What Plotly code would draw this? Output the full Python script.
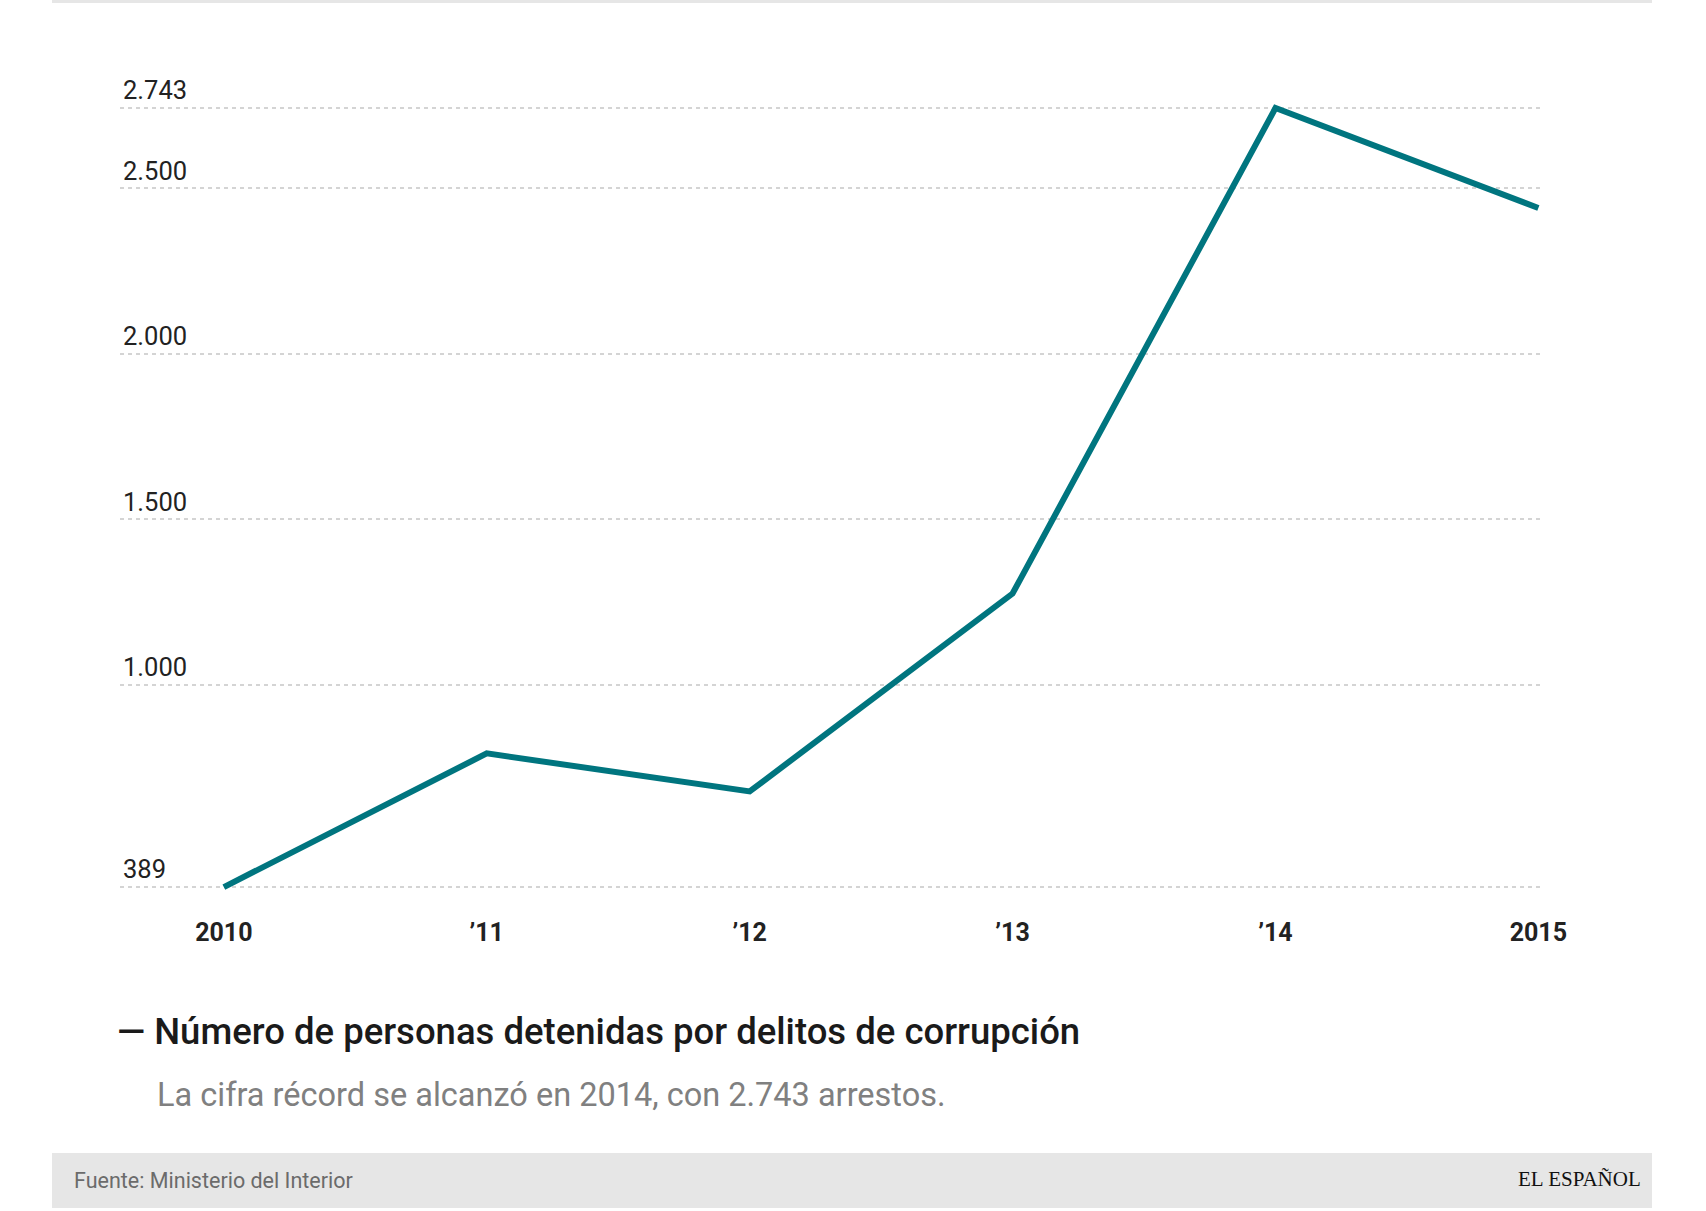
import plotly.graph_objects as go

# ---- data ----
years = [2010, 2011, 2012, 2013, 2014, 2015]
year_labels = ["2010", "\u201911", "\u201912", "\u201913", "\u201914", "2015"]
detenidos = [389, 793, 678, 1276, 2743, 2441]
y_ticks = [389, 1000, 1500, 2000, 2500, 2743]
y_tick_labels = ["389", "1.000", "1.500", "2.000", "2.500", "2.743"]

title_text = "\u2014 Número de personas detenidas por delitos de corrupción"
subtitle_text = "La cifra récord se alcanzó en 2014, con 2.743 arrestos."
source_text = "Fuente: Ministerio del Interior"
brand_text = "EL ESPAÑOL"

# ---- layout geometry (pixels) ----
W, H = 1706, 1211
ML, MR, MT, MB = 120, 165, 70, 311
PW, PH = W - ML - MR, H - MT - MB


def px(x):
    return (x - ML) / PW


def py(y):
    return (H - MB - y) / PH


LINE_COLOR = "#00757f"

fig = go.Figure()
fig.add_trace(go.Scatter(
    x=years, y=detenidos, mode="lines",
    line=dict(color=LINE_COLOR, width=6),
    hoverinfo="skip", showlegend=False,
))

fig.update_layout(
    width=W, height=H, autosize=False,
    margin=dict(l=ML, r=MR, t=MT, b=MB, pad=0),
    paper_bgcolor="white", plot_bgcolor="white",
    font=dict(family="Roboto", color="#222222"),
    showlegend=False,
    xaxis=dict(
        range=[2009.605, 2015.01],
        tickmode="array", tickvals=years, ticktext=year_labels,
        showgrid=False, zeroline=False, showline=False,
        ticks="", ticklabelstandoff=15,
        tickfont=dict(family="Roboto", size=25, color="#222222", weight="bold"),
        fixedrange=True,
    ),
    yaxis=dict(
        range=[350, 2858],
        tickmode="array", tickvals=y_ticks, ticktext=y_tick_labels,
        showgrid=True, gridcolor="#d4d4d4", gridwidth=1.5, griddash="4px,4px",
        zeroline=False, showline=False, ticks="",
        ticklabelposition="inside top",
        tickfont=dict(family="Roboto", size=25.5, color="#222222"),
        fixedrange=True,
    ),
)

shapes = [
    # top thin border
    dict(type="line", xref="paper", yref="paper",
         x0=px(52), x1=px(1652), y0=py(1.5), y1=py(1.5),
         line=dict(color="#e6e6e6", width=3)),
    # footer bar
    dict(type="rect", xref="paper", yref="paper",
         x0=px(52), x1=px(1652), y0=py(1153), y1=py(1208),
         fillcolor="#e6e6e6", line=dict(width=0), layer="below"),
]
fig.update_layout(shapes=shapes)

annotations = [
    dict(text=title_text, xref="paper", yref="paper", x=px(115), y=py(1031),
         xanchor="left", yanchor="middle", showarrow=False,
         font=dict(family="Roboto", size=36.5, color="#1a1a1a", weight=500)),
    dict(text=subtitle_text, xref="paper", yref="paper", x=px(155), y=py(1095),
         xanchor="left", yanchor="middle", showarrow=False,
         font=dict(family="Roboto", size=32.5, color="#808080")),
    dict(text=source_text, xref="paper", yref="paper", x=px(72), y=py(1180),
         xanchor="left", yanchor="middle", showarrow=False,
         font=dict(family="Roboto", size=21.5, color="#6b6b6b")),
    dict(text=brand_text, xref="paper", yref="paper", x=px(1643), y=py(1179),
         xanchor="right", yanchor="middle", showarrow=False,
         font=dict(family="Liberation Serif", size=21, color="#111111")),
]
fig.update_layout(annotations=annotations)

fig.write_html("out.html", config={"displayModeBar": False},
               post_script="document.body.style.margin='0';")
